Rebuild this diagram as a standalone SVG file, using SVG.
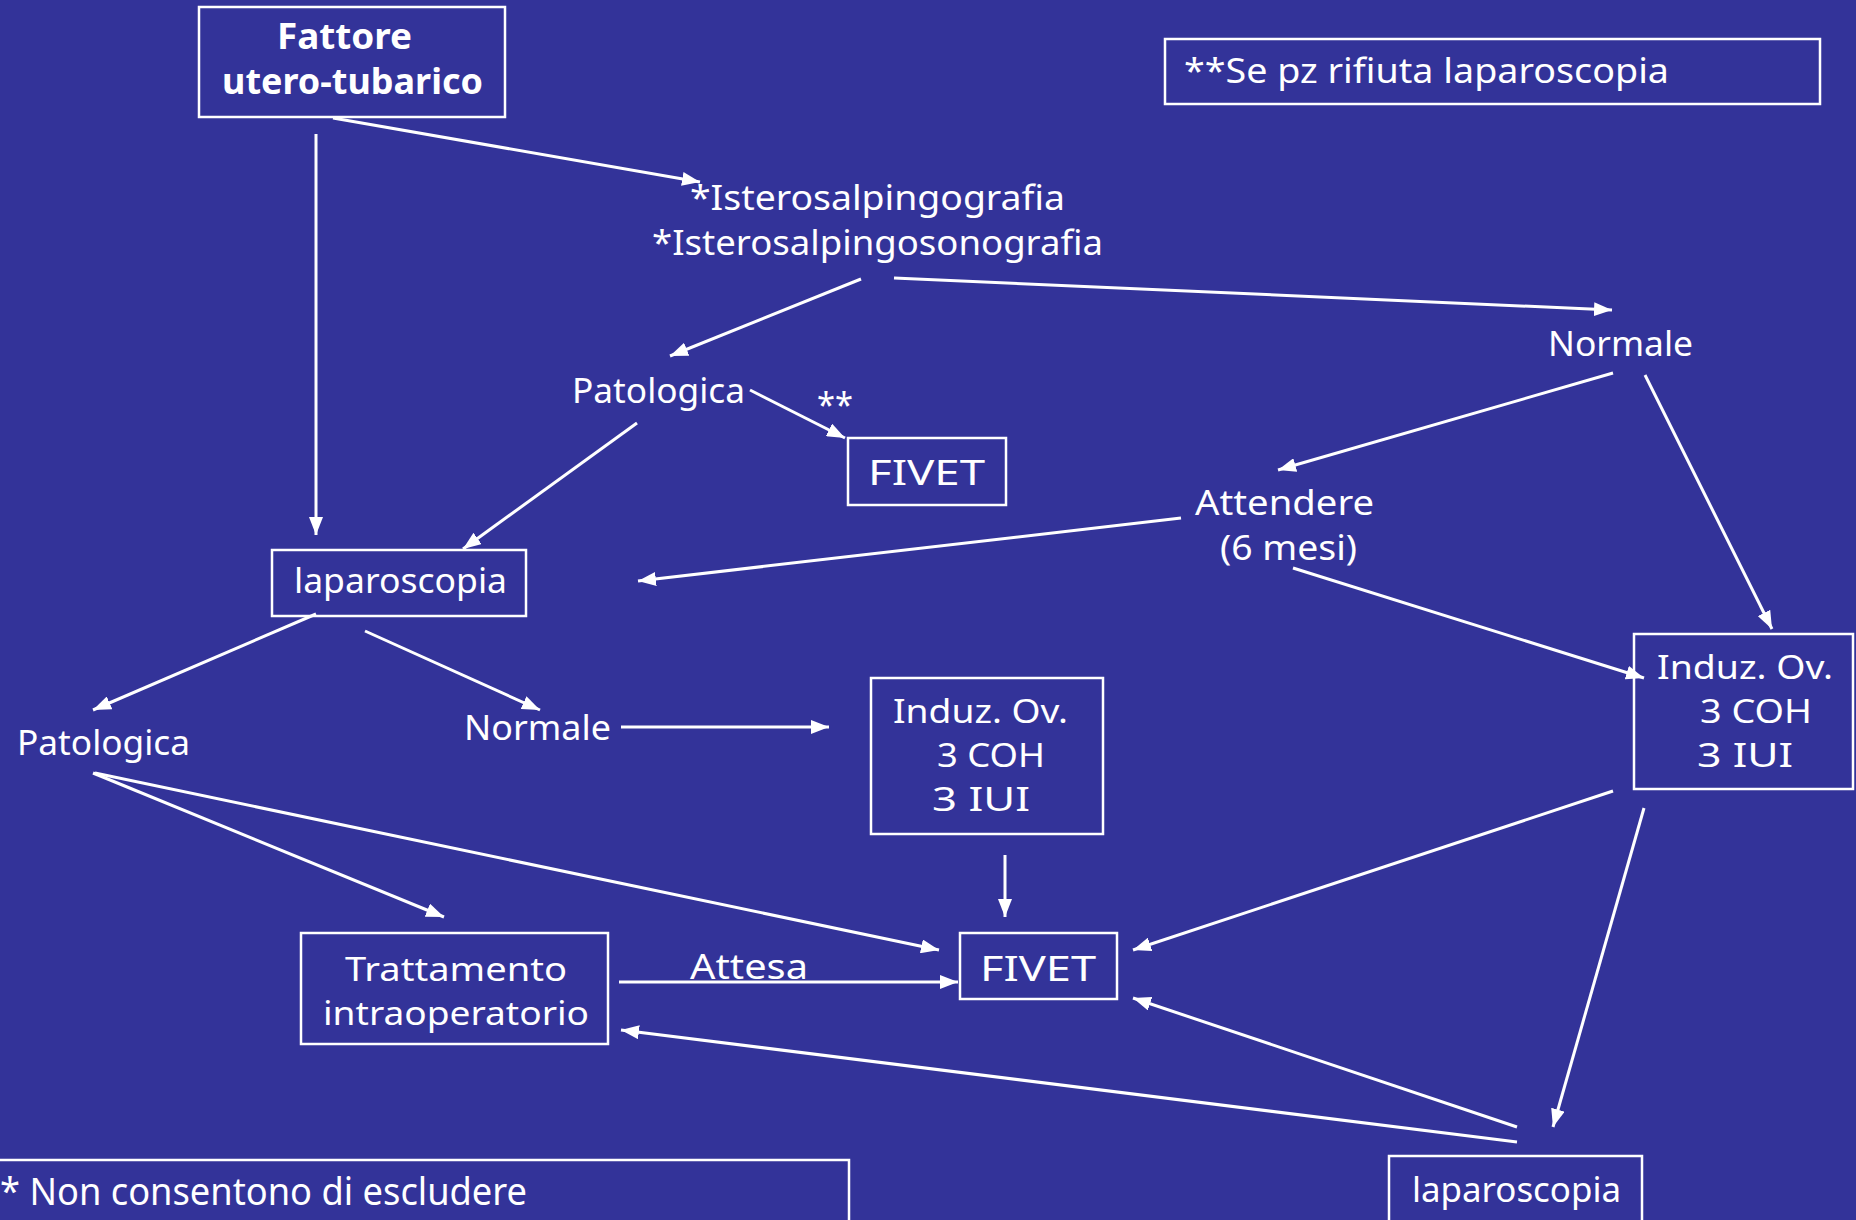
<svg xmlns="http://www.w3.org/2000/svg" width="1856" height="1220" viewBox="0 0 1856 1220">
<defs>
<marker id="ah" markerUnits="userSpaceOnUse" markerWidth="18" markerHeight="14" refX="18" refY="7" orient="auto">
<path d="M0,0 L18,7 L0,14 z" fill="#fff"/>
</marker>
<style>
.box{fill:none;stroke:#fff;stroke-width:2.5}
.t{font-family:"Noto Sans","DejaVu Sans",sans-serif;font-size:35px;fill:#fff}
.s{font-size:32px}
.b{font-weight:bold}
.c line{stroke:#fff;stroke-width:3}
.c line.a{marker-end:url(#ah)}
</style>
</defs>
<rect width="1856" height="1220" fill="#333399"/>
<g class="c" id="connectors">
<line class="a" x1="333" y1="118" x2="700" y2="182"/>
<line class="a" x1="316" y1="134" x2="316" y2="535"/>
<line class="a" x1="861" y1="279" x2="670" y2="356"/>
<line class="a" x1="894" y1="278" x2="1612" y2="310"/>
<line class="a" x1="750" y1="390" x2="845" y2="438"/>
<line class="a" x1="637" y1="423" x2="463" y2="549"/>
<line class="a" x1="1613" y1="373" x2="1278" y2="470"/>
<line class="a" x1="1645" y1="375" x2="1772" y2="629"/>
<line class="a" x1="1181" y1="518" x2="638" y2="581"/>
<line class="a" x1="1293" y1="568" x2="1644" y2="678"/>
<line class="a" x1="316" y1="614" x2="93" y2="710"/>
<line class="a" x1="365" y1="631" x2="540" y2="710"/>
<line class="a" x1="621" y1="727" x2="829" y2="727"/>
<line class="a" x1="1005" y1="855" x2="1005" y2="917"/>
<line class="a" x1="93" y1="773" x2="444" y2="917"/>
<line class="a" x1="95" y1="773" x2="939" y2="950"/>
<line class="a" x1="619" y1="982" x2="958" y2="982"/>
<line class="a" x1="1613" y1="791" x2="1133" y2="950"/>
<line class="a" x1="1517" y1="1127" x2="1133" y2="998"/>
<line class="a" x1="1644" y1="808" x2="1553" y2="1127"/>
<line class="a" x1="1517" y1="1142" x2="621" y2="1030"/>
</g>
<g id="fattore">
<rect class="box" x="199" y="7" width="306" height="110"/>
<text class="t b" x="277" y="49" textLength="135" lengthAdjust="spacingAndGlyphs">Fattore</text>
<text class="t b" x="222" y="94" textLength="261" lengthAdjust="spacingAndGlyphs">utero-tubarico</text>
</g>
<g id="nota2">
<rect class="box" x="1165" y="39" width="655" height="65"/>
<text class="t" x="1184" y="83" textLength="485" lengthAdjust="spacingAndGlyphs">**Se pz rifiuta laparoscopia</text>
</g>
<g id="istero">
<text class="t" x="690" y="210" textLength="375" lengthAdjust="spacingAndGlyphs">*Isterosalpingografia</text>
<text class="t" x="652" y="255" textLength="451" lengthAdjust="spacingAndGlyphs">*Isterosalpingosonografia</text>
</g>
<g id="normale1">
<text class="t" x="1548" y="356" textLength="145" lengthAdjust="spacingAndGlyphs">Normale</text>
</g>
<g id="patologica1">
<text class="t" x="572" y="403" textLength="173" lengthAdjust="spacingAndGlyphs">Patologica</text>
<text class="t" x="817" y="417" textLength="36" lengthAdjust="spacingAndGlyphs">**</text>
</g>
<g id="fivet1">
<rect class="box" x="848" y="438" width="158" height="67"/>
<text class="t" x="868" y="485" textLength="117" lengthAdjust="spacingAndGlyphs">FIVET</text>
</g>
<g id="attendere">
<text class="t" x="1195" y="515" textLength="179" lengthAdjust="spacingAndGlyphs">Attendere</text>
<text class="t" x="1220" y="560" textLength="137" lengthAdjust="spacingAndGlyphs">(6 mesi)</text>
</g>
<g id="laparoscopia1">
<rect class="box" x="272" y="550" width="254" height="66"/>
<text class="t" x="294" y="593" textLength="213" lengthAdjust="spacingAndGlyphs">laparoscopia</text>
</g>
<g id="induz2">
<rect class="box" x="1634" y="634" width="219" height="155"/>
<text class="t s" x="1657" y="679" textLength="176" lengthAdjust="spacingAndGlyphs">Induz. Ov.</text>
<text class="t s" x="1700" y="723" textLength="112" lengthAdjust="spacingAndGlyphs">3 COH</text>
<text class="t s" x="1697" y="767" textLength="96" lengthAdjust="spacingAndGlyphs">3 IUI</text>
</g>
<g id="induz1">
<rect class="box" x="871" y="678" width="232" height="156"/>
<text class="t s" x="893" y="723" textLength="175" lengthAdjust="spacingAndGlyphs">Induz. Ov.</text>
<text class="t s" x="937" y="767" textLength="108" lengthAdjust="spacingAndGlyphs">3 COH</text>
<text class="t s" x="932" y="811" textLength="98" lengthAdjust="spacingAndGlyphs">3 IUI</text>
</g>
<g id="patologica2">
<text class="t" x="17" y="755" textLength="173" lengthAdjust="spacingAndGlyphs">Patologica</text>
</g>
<g id="normale2">
<text class="t" x="464" y="740" textLength="147" lengthAdjust="spacingAndGlyphs">Normale</text>
</g>
<g id="trattamento">
<rect class="box" x="301" y="933" width="307" height="111"/>
<text class="t s" x="345" y="981" textLength="222" lengthAdjust="spacingAndGlyphs">Trattamento</text>
<text class="t s" x="323" y="1025" textLength="266" lengthAdjust="spacingAndGlyphs">intraoperatorio</text>
</g>
<g id="attesa">
<text class="t" x="690" y="979" textLength="118" lengthAdjust="spacingAndGlyphs">Attesa</text>
</g>
<g id="fivet2">
<rect class="box" x="960" y="933" width="157" height="66"/>
<text class="t" x="980" y="981" textLength="116" lengthAdjust="spacingAndGlyphs">FIVET</text>
</g>
<g id="nota1">
<rect class="box" x="-5" y="1160" width="854" height="80"/>
<text class="t" x="0" y="1205" style="font-size:38px" textLength="527" lengthAdjust="spacingAndGlyphs">* Non consentono di escludere</text>
</g>
<g id="laparoscopia2">
<rect class="box" x="1389" y="1156" width="253" height="80"/>
<text class="t" x="1412" y="1202" textLength="209" lengthAdjust="spacingAndGlyphs">laparoscopia</text>
</g>
</svg>
